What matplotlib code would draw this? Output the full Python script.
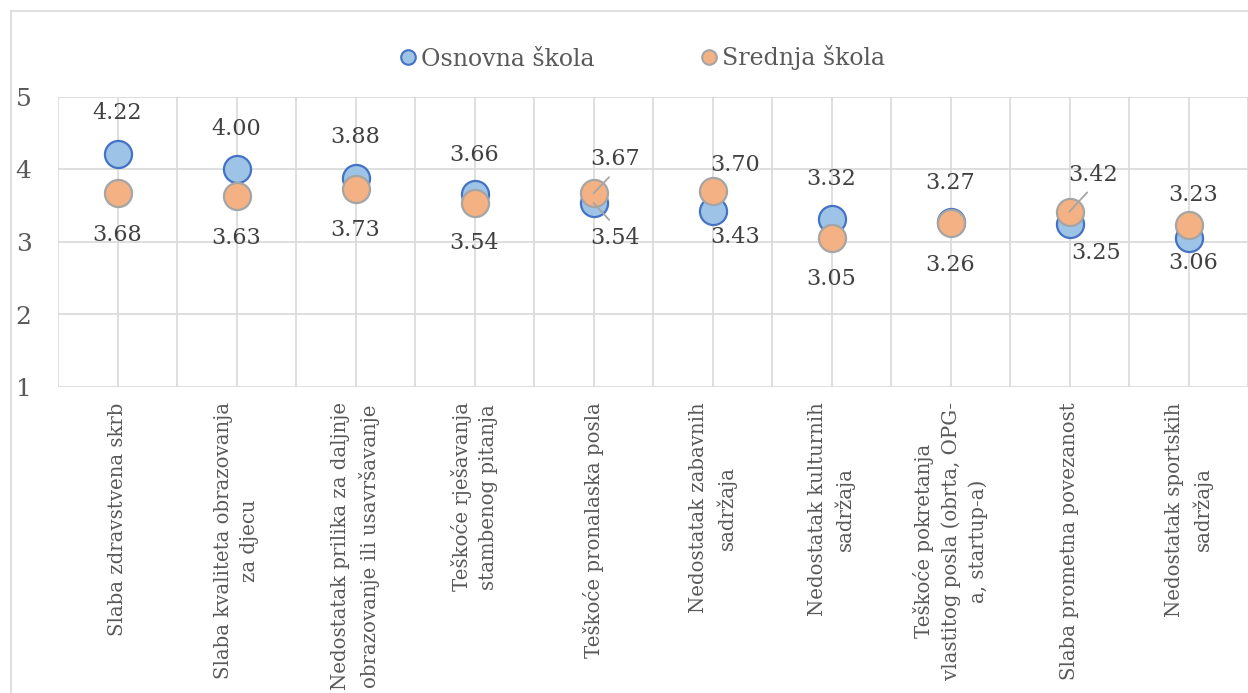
import numpy as np
import matplotlib
matplotlib.use("Agg")
import matplotlib.pyplot as plt
from matplotlib.lines import Line2D

plt.rcParams['font.family'] = ['DejaVu Serif']

categories = [
    "Slaba zdravstvena skrb",
    "Slaba kvaliteta obrazovanja\nza djecu",
    "Nedostatak prilika za daljnje\nobrazovanje ili usavršavanje",
    "Teškoće rješavanja\nstambenog pitanja",
    "Teškoće pronalaska posla",
    "Nedostatak zabavnih\nsadržaja",
    "Nedostatak kulturnih\nsadržaja",
    "Teškoće pokretanja\nvlastitog posla (obrta, OPG-\na, startup-a)",
    "Slaba prometna povezanost",
    "Nedostatak sportskih\nsadržaja",
]
series_names = ["Osnovna škola", "Srednja škola"]
osnovna = [4.22, 4.00, 3.88, 3.66, 3.54, 3.43, 3.32, 3.27, 3.25, 3.06]
srednja = [3.68, 3.63, 3.73, 3.54, 3.67, 3.70, 3.05, 3.26, 3.42, 3.23]
y_ticks = [1, 2, 3, 4, 5]

# data-label offsets (px, screen y downward) and leader-line flags
osn_off = [(0, -41), (0, -40), (0, -41), (0, -39), (22, 35), (23, 26), (0, -40), (0, -39), (27, 29), (5, 25)]
sre_off = [(0, 42), (0, 42), (0, 41), (0, 40), (22, -34), (23, -26), (0, 41), (0, 42), (24, -37), (5, -30)]
osn_leader = [False, False, False, False, True, False, False, False, False, False]
sre_leader = [False, False, False, False, True, False, False, False, True, False]

W, H = 1248, 693
fig = plt.figure(figsize=(W / 100, H / 100), dpi=100)
ax = fig.add_axes([58 / W, 1 - 387 / H, 1 - 58 / W, (387 - 97) / H])

grid_c = "#D9D9D9"
x = np.arange(1, len(categories) + 1)
ax.set_xlim(0.5, len(categories) + 0.5)
ax.set_ylim(1, 5)
ax.set_yticks(y_ticks)
ax.set_xticks(x)
ax.set_xticks(np.arange(0.5, len(categories) + 1, 1.0), minor=True)
ax.grid(True, which='both', color=grid_c, lw=1.2)
ax.set_axisbelow(True)
for s in ax.spines.values():
    s.set_visible(False)
ax.tick_params(axis='both', which='both', length=0)
ax.tick_params(axis='y', pad=19, labelsize=18, labelcolor="#595959")
ax.set_xticklabels(categories, rotation=90, va='top', ha='center',
                   multialignment='center', fontsize=14.2, color="#595959",
                   linespacing=1.5)
ax.tick_params(axis='x', pad=11)

blue_face, blue_edge = "#9DC3E6", "#4472C4"
org_face, org_edge = "#F4B183", "#A5A5A5"
ms = 19.5
ax.plot(x, osnovna, 'o', ms=ms, mfc=blue_face, mec=blue_edge, mew=1.6, ls='none', zorder=3)
ax.plot(x, srednja, 'o', ms=ms, mfc=org_face, mec=org_edge, mew=1.6, ls='none', zorder=4)

lab_c = "#404040"
for vals, offs, leads in ((osnovna, osn_off, osn_leader), (srednja, sre_off, sre_leader)):
    for xi, v, (dx, dy), lead in zip(x, vals, offs, leads):
        kw = {}
        if lead:
            kw['arrowprops'] = dict(arrowstyle='-', color='#A5A5A5', lw=1.3,
                                    relpos=(0.5, 0.0) if dy < 0 else (0.5, 1.0),
                                    shrinkA=4, shrinkB=0)
        ax.annotate(f"{v:.2f}", xy=(xi, v), xytext=(dx * 0.72, -dy * 0.72),
                    textcoords='offset points', ha='center', va='center',
                    fontsize=16, color=lab_c, zorder=6, **kw)

# legend
handles = [
    Line2D([], [], marker='o', ls='none', ms=10.5, mfc=blue_face, mec=blue_edge, mew=1.5),
    Line2D([], [], marker='o', ls='none', ms=10.5, mfc=org_face, mec=org_edge, mew=1.5),
]
fig.legend(handles, series_names, loc='center', bbox_to_anchor=(0.513, 1 - 58 / H),
           ncol=2, frameon=False, fontsize=17, labelcolor="#595959",
           handletextpad=0.05, columnspacing=4.35, handlelength=1.0)

# chart-area border (left and top visible)
fig.add_artist(Line2D([10.5 / W, 10.5 / W], [0, 1 - 11 / H], color=grid_c, lw=1.2,
                      transform=fig.transFigure))
fig.add_artist(Line2D([10.5 / W, 1], [1 - 11 / H, 1 - 11 / H], color=grid_c, lw=1.2,
                      transform=fig.transFigure))

fig.savefig("out.png", dpi=100)
